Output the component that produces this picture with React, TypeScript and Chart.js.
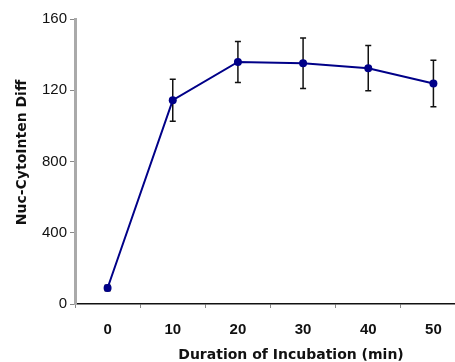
import React, { useEffect, useRef } from "react";
import { Chart, registerables } from "chart.js";

Chart.register(...registerables);

const categories = ["0", "10", "20", "30", "40", "50"];
const values = [90, 1144, 1359, 1352, 1324, 1238];
const errors = [15, 118, 115, 142, 127, 131];
const yTickLabels = ["0", "400", "800", "120", "160"];
const xTitle = "Duration of Incubation (min)";
const yTitle = "Nuc-CytoInten Diff";

const errorBarPlugin = {
  id: "errorBars",
  beforeDatasetsDraw(chart: any) {
    const meta = chart.getDatasetMeta(0);
    const ys = chart.scales.y;
    const ctx = chart.ctx;
    ctx.save();
    ctx.strokeStyle = "#111";
    ctx.lineWidth = 1.5;
    meta.data.forEach((pt: any, i: number) => {
      const top = ys.getPixelForValue(values[i] + errors[i]);
      const bot = ys.getPixelForValue(values[i] - errors[i]);
      const x = pt.x;
      ctx.beginPath();
      ctx.moveTo(x, top);
      ctx.lineTo(x, bot);
      ctx.moveTo(x - 3, top);
      ctx.lineTo(x + 3, top);
      ctx.moveTo(x - 3, bot);
      ctx.lineTo(x + 3, bot);
      ctx.stroke();
    });
    ctx.restore();
  },
};

const titlesPlugin = {
  id: "axisTitles",
  afterDraw(chart: any) {
    const ctx = chart.ctx;
    const area = chart.chartArea;
    ctx.save();
    ctx.fillStyle = "#111";
    ctx.font = "bold 14px 'DejaVu Sans'";
    ctx.textAlign = "center";
    ctx.textBaseline = "alphabetic";
    ctx.fillText(xTitle, area.left + 216, area.bottom + 55);
    ctx.translate(22, (area.top + area.bottom) / 2 - 9);
    ctx.rotate(-Math.PI / 2);
    ctx.textBaseline = "middle";
    ctx.fillText(yTitle, 0, 0);
    ctx.restore();
  },
};

export default function App() {
  const ref = useRef<HTMLCanvasElement>(null);

  useEffect(() => {
    if (!ref.current) return;
    const chart = new Chart(ref.current, {
      type: "line",
      data: {
        labels: categories,
        datasets: [
          {
            data: values,
            borderColor: "#000088",
            backgroundColor: "#000088",
            borderWidth: 2,
            pointRadius: 4,
            pointBorderWidth: 0,
            pointBackgroundColor: "#000088",
            tension: 0,
            clip: false as any,
          },
        ],
      },
      options: {
        responsive: false,
        animation: false,
        devicePixelRatio: 1,
        layout: { padding: { left: 0, top: 19, right: 2, bottom: 0 } },
        plugins: {
          legend: { display: false },
          tooltip: { enabled: false },
        },
        scales: {
          x: {
            type: "category",
            offset: true,
            grid: {
              offset: true,
              drawOnChartArea: false,
              drawTicks: true,
              tickLength: 4,
              color: "#888",
            },
            border: { display: true, color: "#111", width: 1.5 },
            ticks: {
              font: { family: "Liberation Sans", size: 15, weight: "bold" },
              color: "#111",
              padding: 13,
              maxRotation: 0,
            },
            afterFit: (s: any) => {
              s.height = 58;
            },
          },
          y: {
            min: 0,
            max: 1600,
            grid: {
              drawOnChartArea: false,
              tickLength: 5,
              color: "#888",
            },
            border: { display: true, color: "#aaa", width: 3 },
            ticks: {
              stepSize: 400,
              font: { family: "Liberation Sans", size: 15 },
              color: "#111",
              padding: 3,
              callback: (_v: any, i: number) => yTickLabels[i],
            },
            afterFit: (s: any) => {
              s.width = 75;
            },
          },
        },
      },
      plugins: [errorBarPlugin, titlesPlugin],
    });
    return () => chart.destroy();
  }, []);

  return (
    <div
      style={{
        position: "fixed",
        left: 0,
        top: 0,
        width: 455,
        height: 362,
        overflow: "hidden",
        background: "#fff",
      }}
    >
      <canvas ref={ref} width={470} height={362} style={{ display: "block" }} />
    </div>
  );
}
